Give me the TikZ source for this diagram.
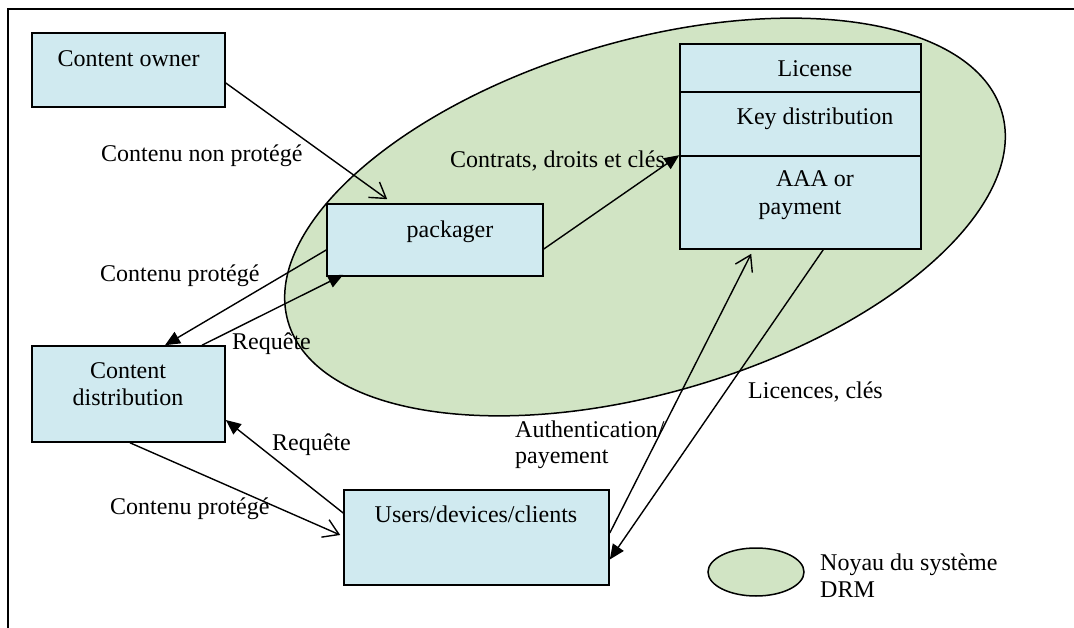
\documentclass[tikz,border=0pt]{standalone}
\usepackage{fontspec}
\setmainfont{Liberation Serif}
\usetikzlibrary{arrows.meta,shapes.geometric}
\definecolor{boxfill}{RGB}{208,234,240}
\definecolor{corefill}{RGB}{209,228,196}
\begin{document}
\begin{tikzpicture}[x=1pt,y=-1pt,
  every node/.style={font=\fontsize{24}{28}\selectfont, inner sep=0pt},
  unit/.style={draw, line width=1.6pt, fill=boxfill, rectangle, inner sep=0pt},
  flow/.style={line width=1.4pt},
  solidtip/.style={-{Triangle[length=15pt,width=13pt]}},
  opentip/.style={-{Straight Barb[length=15pt,width=19pt,line width=1.4pt]}},
  lbl/.style={anchor=base west},
  ctr/.style={anchor=base}]
\useasboundingbox (0,0) rectangle (1074,628);

% page frame
\draw[line width=1.8pt] (8,628) -- (8,9) -- (1074,9);

% DRM core
\draw[fill=corefill, line width=1.5pt, rotate around={16.4:(645,217)}]
  (645,217) ellipse [x radius=372, y radius=176];

% components
\node[unit, minimum width=193pt, minimum height=74pt] (own)   at (128.5,70)  {};
\node[unit, minimum width=216pt, minimum height=72pt] (pack)  at (435,240)   {};
\node[unit, minimum width=193pt, minimum height=96pt] (dist)  at (128.5,394) {};
\node[unit, minimum width=265pt, minimum height=95pt] (users) at (476.5,537.5) {};
\node[unit, minimum width=241pt, minimum height=48pt] (licA)  at (800.5,68)  {};
\node[unit, minimum width=241pt, minimum height=64pt] (licB)  at (800.5,124) {};
\node[unit, minimum width=241pt, minimum height=93pt] (licC)  at (800.5,202.5) {};

% component names
\node[ctr] (tOwn)   at (128.5,67) {Content owner};
\node[ctr] (tPack)  at (450,238)  {packager};
\node[ctr] (tDist1) at (128,378)  {Content};
\node[ctr] (tDist2) at (128,406)  {distribution};
\node[ctr] (tUsers) at (476,522)  {Users/devices/clients};
\node[ctr] (tLic)   at (815,77)   {License};
\node[ctr] (tKey)   at (815,125)  {Key distribution};
\node[ctr] (tAAA)   at (815,187)  {AAA or};
\node[ctr] (tPay)   at (800,215)  {payment};

% flows
\draw[flow, opentip]  ([shift={(0,13)}]own.east) -- ([shift={(61,-4)}]pack.north west);
\draw[flow, solidtip] ([shift={(0,10)}]pack.west) -- ([shift={(36.5,0)}]dist.north);
\draw[flow, solidtip] ([shift={(73.5,0)}]dist.north) -- ([shift={(17,-2)}]pack.south west);
\draw[flow, solidtip] ([shift={(0,9)}]pack.east) -- (licC.north west);
\draw[flow, opentip]  ([shift={(0,-4.5)}]users.east) -- ([shift={(72,4)}]licC.south west);
\draw[flow, solidtip] ([shift={(144,0)}]licC.south west) -- ([shift={(0,22)}]users.east);
\draw[flow, solidtip] ([shift={(0,-24.5)}]users.west) -- ([shift={(0,26)}]dist.east);
\draw[flow, opentip]  ([shift={(1.5,0)}]dist.south) -- ([shift={(-3,-2.5)}]users.west);

% flow labels
\node[lbl] (l1) at (101,162) {Contenu non protégé};
\node[lbl] (l2) at (100,282) {Contenu protégé};
\node[lbl] (l3) at (232,350) {Requête};
\node[lbl] (l4) at (272,450) {Requête};
\node[lbl] (l5) at (110,514) {Contenu protégé};
\node[lbl] (l6) at (450,168) {Contrats, droits et clés};
\node[lbl] (l7) at (515,437) {Authentication/};
\node[lbl] (l8) at (515,463) {payement};
\node[lbl] (l9) at (748,399) {Licences, clés};

% legend
\node[draw, ellipse, fill=corefill, line width=1.5pt, minimum width=96pt, minimum height=48pt] (key) at (756,572) {};
\node[lbl] (k1) at (820,570) {Noyau du système};
\node[lbl] (k2) at (820,597) {DRM};
\end{tikzpicture}
\end{document}
